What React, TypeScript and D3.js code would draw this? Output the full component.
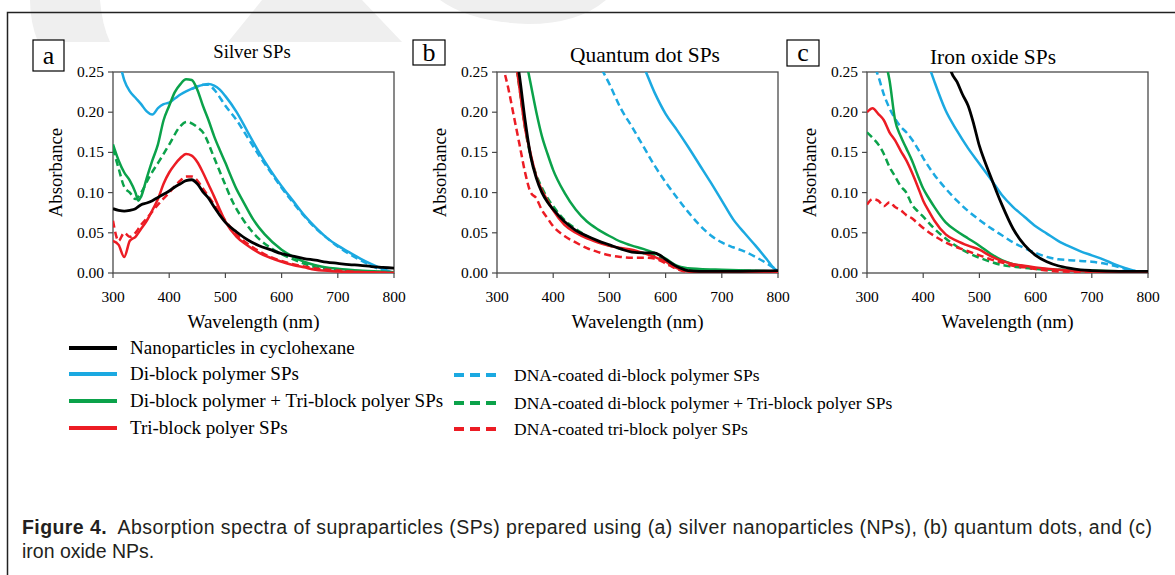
import React from 'react';
import * as d3 from 'd3';

type Pt = [number, number];

// wavelength (nm), absorbance
const silverNP: Pt[] = [[300,0.08],[310,0.078],[320,0.077],[330,0.078],[340,0.08],[350,0.085],[360,0.087],[370,0.09],[380,0.094],[390,0.098],[400,0.102],[410,0.107],[420,0.111],[430,0.115],[440,0.116],[450,0.111],[460,0.101],[470,0.093],[480,0.082],[490,0.072],[500,0.063],[520,0.051],[540,0.041],[560,0.034],[580,0.029],[600,0.024],[620,0.021],[640,0.018],[660,0.016],[680,0.0135],[700,0.012],[720,0.0105],[740,0.0095],[760,0.008],[780,0.007],[800,0.006]];
const silverDi: Pt[] = [[300,0.3],[310,0.268],[320,0.24],[330,0.226],[340,0.218],[350,0.21],[360,0.201],[370,0.197],[380,0.205],[390,0.21],[400,0.212],[410,0.217],[420,0.222],[430,0.226],[440,0.229],[450,0.232],[460,0.234],[470,0.235],[480,0.233],[490,0.228],[500,0.22],[520,0.2],[540,0.175],[560,0.15],[580,0.128],[600,0.108],[620,0.09],[640,0.072],[660,0.057],[680,0.044],[700,0.034],[720,0.026],[740,0.018],[760,0.011],[780,0.005],[800,0]];
const silverDiDNA: Pt[] = [[440,0.229],[450,0.232],[460,0.234],[470,0.234],[480,0.228],[500,0.208],[520,0.19],[540,0.168],[560,0.146],[580,0.126],[600,0.106],[620,0.088],[640,0.071],[660,0.056],[680,0.044],[700,0.033],[720,0.024],[740,0.016],[760,0.009],[780,0.003],[800,0]];
const silverMix: Pt[] = [[300,0.16],[310,0.14],[320,0.125],[330,0.115],[340,0.1],[345,0.09],[350,0.095],[360,0.118],[370,0.14],[380,0.16],[390,0.19],[400,0.208],[410,0.225],[420,0.235],[430,0.241],[440,0.24],[450,0.228],[460,0.208],[470,0.19],[480,0.17],[490,0.153],[500,0.137],[510,0.12],[520,0.104],[530,0.091],[550,0.066],[570,0.048],[600,0.029],[630,0.017],[670,0.008],[720,0.004],[800,0.001]];
const silverMixDNA: Pt[] = [[300,0.155],[310,0.13],[320,0.107],[330,0.1],[340,0.092],[350,0.1],[365,0.12],[383,0.14],[401,0.161],[419,0.182],[431,0.188],[449,0.182],[461,0.174],[479,0.145],[496,0.116],[514,0.087],[532,0.066],[556,0.045],[586,0.029],[621,0.017],[669,0.006],[750,0.002],[800,0]];
const silverTri: Pt[] = [[300,0.04],[310,0.035],[320,0.02],[330,0.04],[340,0.045],[350,0.055],[360,0.065],[370,0.078],[380,0.092],[390,0.111],[400,0.125],[410,0.135],[420,0.143],[430,0.148],[440,0.146],[450,0.138],[460,0.125],[470,0.11],[480,0.095],[490,0.079],[500,0.064],[520,0.045],[540,0.034],[560,0.025],[580,0.019],[600,0.014],[620,0.01],[640,0.007],[660,0.004],[700,0.002],[750,0.001],[800,0]];
const silverTriDNA: Pt[] = [[300,0.065],[310,0.04],[320,0.05],[330,0.045],[340,0.05],[350,0.06],[360,0.068],[380,0.085],[400,0.1],[410,0.108],[420,0.115],[430,0.12],[440,0.12],[450,0.115],[460,0.105],[480,0.085],[500,0.065],[520,0.048],[540,0.036],[560,0.027],[580,0.02],[600,0.015],[640,0.008],[700,0.003],[800,0]];

const qdNP: Pt[] = [[330,0.29],[340,0.245],[350,0.19],[360,0.145],[370,0.118],[380,0.1],[390,0.088],[400,0.079],[420,0.064],[440,0.053],[460,0.046],[480,0.04],[500,0.035],[520,0.03],[540,0.026],[560,0.025],[580,0.025],[590,0.022],[600,0.017],[620,0.008],[640,0.003],[660,0.002],[700,0.002],[800,0.003]];
const qdDi: Pt[] = [[540,0.285],[560,0.258],[580,0.225],[600,0.198],[620,0.178],[640,0.157],[660,0.135],[680,0.113],[700,0.09],[720,0.067],[740,0.05],[760,0.034],[780,0.017],[790,0.008],[800,0.002]];
const qdDiDNA: Pt[] = [[460,0.29],[480,0.262],[500,0.235],[520,0.205],[540,0.182],[560,0.158],[580,0.134],[600,0.113],[620,0.094],[640,0.076],[660,0.06],[680,0.047],[700,0.038],[720,0.032],[740,0.027],[760,0.02],[780,0.012],[800,0.003]];
const qdMix: Pt[] = [[350,0.27],[360,0.235],[370,0.2],[380,0.17],[390,0.148],[400,0.128],[420,0.1],[440,0.079],[460,0.064],[480,0.054],[500,0.046],[520,0.039],[540,0.034],[560,0.03],[580,0.025],[600,0.018],[620,0.009],[640,0.006],[660,0.005],[700,0.004],[750,0.003],[800,0.002]];
const qdMixDNA: Pt[] = [[330,0.28],[340,0.23],[350,0.18],[360,0.145],[370,0.122],[380,0.106],[390,0.093],[400,0.083],[420,0.066],[440,0.055],[460,0.046],[480,0.039],[500,0.034],[520,0.03],[540,0.027],[560,0.025],[580,0.022],[600,0.014],[620,0.006],[640,0.004],[700,0.003],[800,0.002]];
const qdTri: Pt[] = [[330,0.28],[340,0.23],[350,0.18],[360,0.148],[370,0.12],[380,0.103],[390,0.09],[400,0.078],[420,0.06],[440,0.05],[460,0.043],[480,0.038],[500,0.034],[520,0.031],[540,0.029],[560,0.025],[580,0.02],[600,0.014],[620,0.006],[640,0.002],[660,0.001],[800,0.001]];
const qdTriDNA: Pt[] = [[300,0.3],[310,0.26],[320,0.23],[330,0.195],[340,0.16],[350,0.125],[360,0.1],[370,0.093],[380,0.078],[390,0.068],[400,0.058],[420,0.046],[440,0.038],[460,0.031],[480,0.026],[500,0.022],[520,0.02],[540,0.019],[560,0.019],[580,0.018],[600,0.012],[620,0.005],[640,0.001],[660,0],[800,0]];

const ironNP: Pt[] = [[440,0.28],[450,0.25],[460,0.238],[470,0.222],[480,0.208],[490,0.185],[500,0.158],[510,0.138],[520,0.12],[530,0.102],[540,0.085],[560,0.055],[580,0.035],[600,0.022],[620,0.014],[640,0.009],[660,0.006],[680,0.004],[700,0.003],[750,0.002],[800,0.002]];
const ironDi: Pt[] = [[400,0.28],[410,0.258],[420,0.238],[440,0.202],[460,0.177],[480,0.155],[500,0.136],[520,0.117],[540,0.097],[560,0.082],[580,0.07],[600,0.058],[620,0.049],[640,0.04],[660,0.033],[680,0.027],[700,0.022],[720,0.017],[740,0.011],[760,0.006],[780,0.002],[800,0.001]];
const ironDiDNA: Pt[] = [[300,0.28],[310,0.262],[320,0.245],[330,0.222],[340,0.205],[350,0.192],[360,0.182],[370,0.175],[380,0.166],[390,0.155],[400,0.143],[420,0.122],[440,0.105],[460,0.09],[480,0.077],[500,0.066],[520,0.056],[540,0.047],[560,0.038],[580,0.031],[600,0.025],[620,0.02],[640,0.017],[660,0.016],[680,0.015],[700,0.014],[720,0.012],[740,0.009],[760,0.005],[780,0.002],[800,0.001]];
const ironMix: Pt[] = [[320,0.3],[330,0.27],[340,0.24],[350,0.19],[360,0.17],[370,0.155],[380,0.14],[390,0.122],[400,0.105],[410,0.093],[420,0.082],[440,0.063],[460,0.052],[480,0.043],[500,0.034],[520,0.024],[540,0.016],[560,0.011],[580,0.008],[600,0.006],[640,0.004],[700,0.003],[800,0.001]];
const ironMixDNA: Pt[] = [[300,0.175],[310,0.168],[320,0.16],[330,0.148],[340,0.132],[350,0.12],[360,0.108],[370,0.1],[380,0.085],[390,0.077],[400,0.07],[420,0.055],[440,0.043],[460,0.033],[480,0.025],[500,0.019],[520,0.014],[540,0.01],[560,0.008],[600,0.005],[640,0.004],[700,0.002],[800,0.001]];
const ironTri: Pt[] = [[300,0.2],[310,0.205],[320,0.198],[330,0.19],[340,0.175],[350,0.165],[360,0.152],[370,0.14],[380,0.125],[390,0.108],[400,0.09],[410,0.077],[420,0.065],[440,0.048],[460,0.04],[480,0.034],[500,0.029],[520,0.021],[540,0.015],[560,0.011],[580,0.009],[600,0.007],[640,0.004],[700,0.002],[800,0.001]];
const ironTriDNA: Pt[] = [[300,0.085],[310,0.092],[320,0.09],[330,0.083],[340,0.088],[350,0.082],[360,0.078],[370,0.072],[380,0.068],[390,0.062],[400,0.056],[420,0.046],[440,0.038],[460,0.032],[480,0.027],[500,0.022],[520,0.017],[540,0.013],[560,0.009],[580,0.007],[600,0.005],[640,0.002],[700,0.001],[800,0]];

const xTicks = [300, 400, 500, 600, 700, 800];
const yTicks = [0, 0.05, 0.1, 0.15, 0.2, 0.25];

const legendLabels = [
  'Nanoparticles in cyclohexane',
  'Di-block polymer SPs',
  'Di-block polymer + Tri-block polyer SPs',
  'Tri-block polyer SPs',
  'DNA-coated di-block polymer SPs',
  'DNA-coated di-block polymer + Tri-block polyer SPs',
  'DNA-coated tri-block polyer SPs',
];

const BLACK = '#000000';
const BLUE = '#1ba9e1';
const GREEN = '#0ba24a';
const RED = '#ec1c24';

const styles = [
  { color: BLACK, dash: false },
  { color: BLUE, dash: false },
  { color: GREEN, dash: false },
  { color: RED, dash: false },
  { color: BLUE, dash: true },
  { color: GREEN, dash: true },
  { color: RED, dash: true },
];

// draw order: dashed blue, blue, dashed green, green, dashed red, red, black
const drawOrder = [4, 1, 5, 2, 6, 3, 0];

const panels = [
  { id: 'a', title: 'Silver SPs', left: 113, titleX: 252, titleY: 58, titleSize: 18.7, box: [33, 40, 31, 31], series: [silverNP, silverDi, silverMix, silverTri, silverDiDNA, silverMixDNA, silverTriDNA] },
  { id: 'b', title: 'Quantum dot SPs', left: 497, titleX: 645, titleY: 62, titleSize: 21.4, box: [413, 40, 32, 25], series: [qdNP, qdDi, qdMix, qdTri, qdDiDNA, qdMixDNA, qdTriDNA] },
  { id: 'c', title: 'Iron oxide SPs', left: 867, titleX: 993, titleY: 63.5, titleSize: 21.4, box: [787, 40, 32, 26], series: [ironNP, ironDi, ironMix, ironTri, ironDiDNA, ironMixDNA, ironTriDNA] },
];

const TOP = 72;
const BOTTOM = 273;
const PW = 281;
const serif = '"Liberation Serif", "Times New Roman", serif';
const sans = '"Liberation Sans", Arial, sans-serif';

const Panel = ({ p }: { p: typeof panels[number] }) => {
  const x = d3.scaleLinear().domain([300, 800]).range([p.left, p.left + PW]);
  const y = d3.scaleLinear().domain([0, 0.25]).range([BOTTOM, TOP]);
  const line = d3.line<Pt>().x(d => x(d[0])).y(d => y(d[1])).curve(d3.curveMonotoneX);
  const clipId = `clip-${p.id}`;
  return (
    <g>
      <defs>
        <clipPath id={clipId}>
          <rect x={p.left} y={TOP} width={PW} height={BOTTOM - TOP} />
        </clipPath>
      </defs>
      <rect x={p.box[0]} y={p.box[1]} width={p.box[2]} height={p.box[3]} fill="white" stroke="#000" strokeWidth={1.2} />
      <text x={p.box[0] + p.box[2] / 2} y={p.box[1] + p.box[3] / 2 + 8} textAnchor="middle" fontFamily={serif} fontSize={26}>{p.id}</text>
      <text x={p.titleX} y={p.titleY} textAnchor="middle" fontFamily={serif} fontSize={p.titleSize}>{p.title}</text>
      <rect x={p.left} y={TOP} width={PW} height={BOTTOM - TOP} fill="none" stroke="#4a4a4a" strokeWidth={1.3} />
      <g clipPath={`url(#${clipId})`}>
        {drawOrder.map(i => (
          <path key={i} d={line(p.series[i]) || ''} fill="none" stroke={styles[i].color}
            strokeWidth={styles[i].color === BLACK ? 2.8 : 2.5}
            strokeDasharray={styles[i].dash ? '7 4' : undefined} strokeLinejoin="round" />
        ))}
      </g>
      {yTicks.map(t => (
        <g key={t}>
          <line x1={p.left - 5} x2={p.left} y1={y(t)} y2={y(t)} stroke="#4a4a4a" strokeWidth={1.2} />
          <text x={p.left - 9} y={y(t) + 5} textAnchor="end" fontFamily={serif} fontSize={15.5}>{d3.format('.2f')(t)}</text>
        </g>
      ))}
      {xTicks.map(t => (
        <g key={t}>
          <line x1={x(t)} x2={x(t)} y1={BOTTOM} y2={BOTTOM + 5} stroke="#4a4a4a" strokeWidth={1.2} />
          <text x={x(t)} y={BOTTOM + 29} textAnchor="middle" fontFamily={serif} fontSize={15.5}>{t}</text>
        </g>
      ))}
      <text x={p.left + PW / 2} y={BOTTOM + 55} textAnchor="middle" fontFamily={serif} fontSize={19}>Wavelength (nm)</text>
      <text transform={`translate(${p.left - 51},${(TOP + BOTTOM) / 2}) rotate(-90)`} textAnchor="middle" fontFamily={serif} fontSize={18.7}>Absorbance</text>
    </g>
  );
};

const legendPos = [
  { x: 69, y: 348 }, { x: 69, y: 374 }, { x: 69, y: 401 }, { x: 69, y: 428 },
  { x: 454, y: 375 }, { x: 454, y: 403 }, { x: 454, y: 429 },
];

const App = () => (
  <svg width={1175} height={575} style={{ position: 'absolute', left: 0, top: 0, background: '#fff' }}>
    {/* faint watermark at the top */}
    <g fill="#efefef">
      <path d="M30,0 L100,0 Q102,25 110,42 L38,42 Q30,22 30,0 Z" />
      <path d="M262,0 L362,0 L402,42 L228,42 Z" />
      <path d="M440,0 L606,0 Q578,24 528,24 Q470,22 440,0 Z" />
    </g>
    <rect x={7.5} y={12.5} width={1200} height={600} fill="none" stroke="#222" strokeWidth={1.5} />
    {panels.map(p => <Panel key={p.id} p={p} />)}
    {legendLabels.map((lab, i) => {
      const s = styles[i];
      const pos = legendPos[i];
      return (
        <g key={lab}>
          <line x1={pos.x} x2={pos.x + (s.dash ? 42 : 48)} y1={pos.y} y2={pos.y} stroke={s.color} strokeWidth={4}
            strokeDasharray={s.dash ? '10 6' : undefined} />
          <text x={s.dash ? 514 : 130} y={pos.y + 6} fontFamily={serif} fontSize={s.dash ? 17.5 : 19}>{lab}</text>
        </g>
      );
    })}
    <text x={22} y={534} fontFamily={sans} fontSize={19.5} fill="#231f20" textLength={1130} lengthAdjust="spacing">
      <tspan fontWeight="bold">Figure 4.</tspan>
      <tspan>{'\u00a0 Absorption spectra of supraparticles (SPs) prepared using (a) silver nanoparticles (NPs), (b) quantum dots, and (c)'}</tspan>
    </text>
    <text x={22} y={558} fontFamily={sans} fontSize={19.5} fill="#231f20">iron oxide NPs.</text>
  </svg>
);

export default App;
